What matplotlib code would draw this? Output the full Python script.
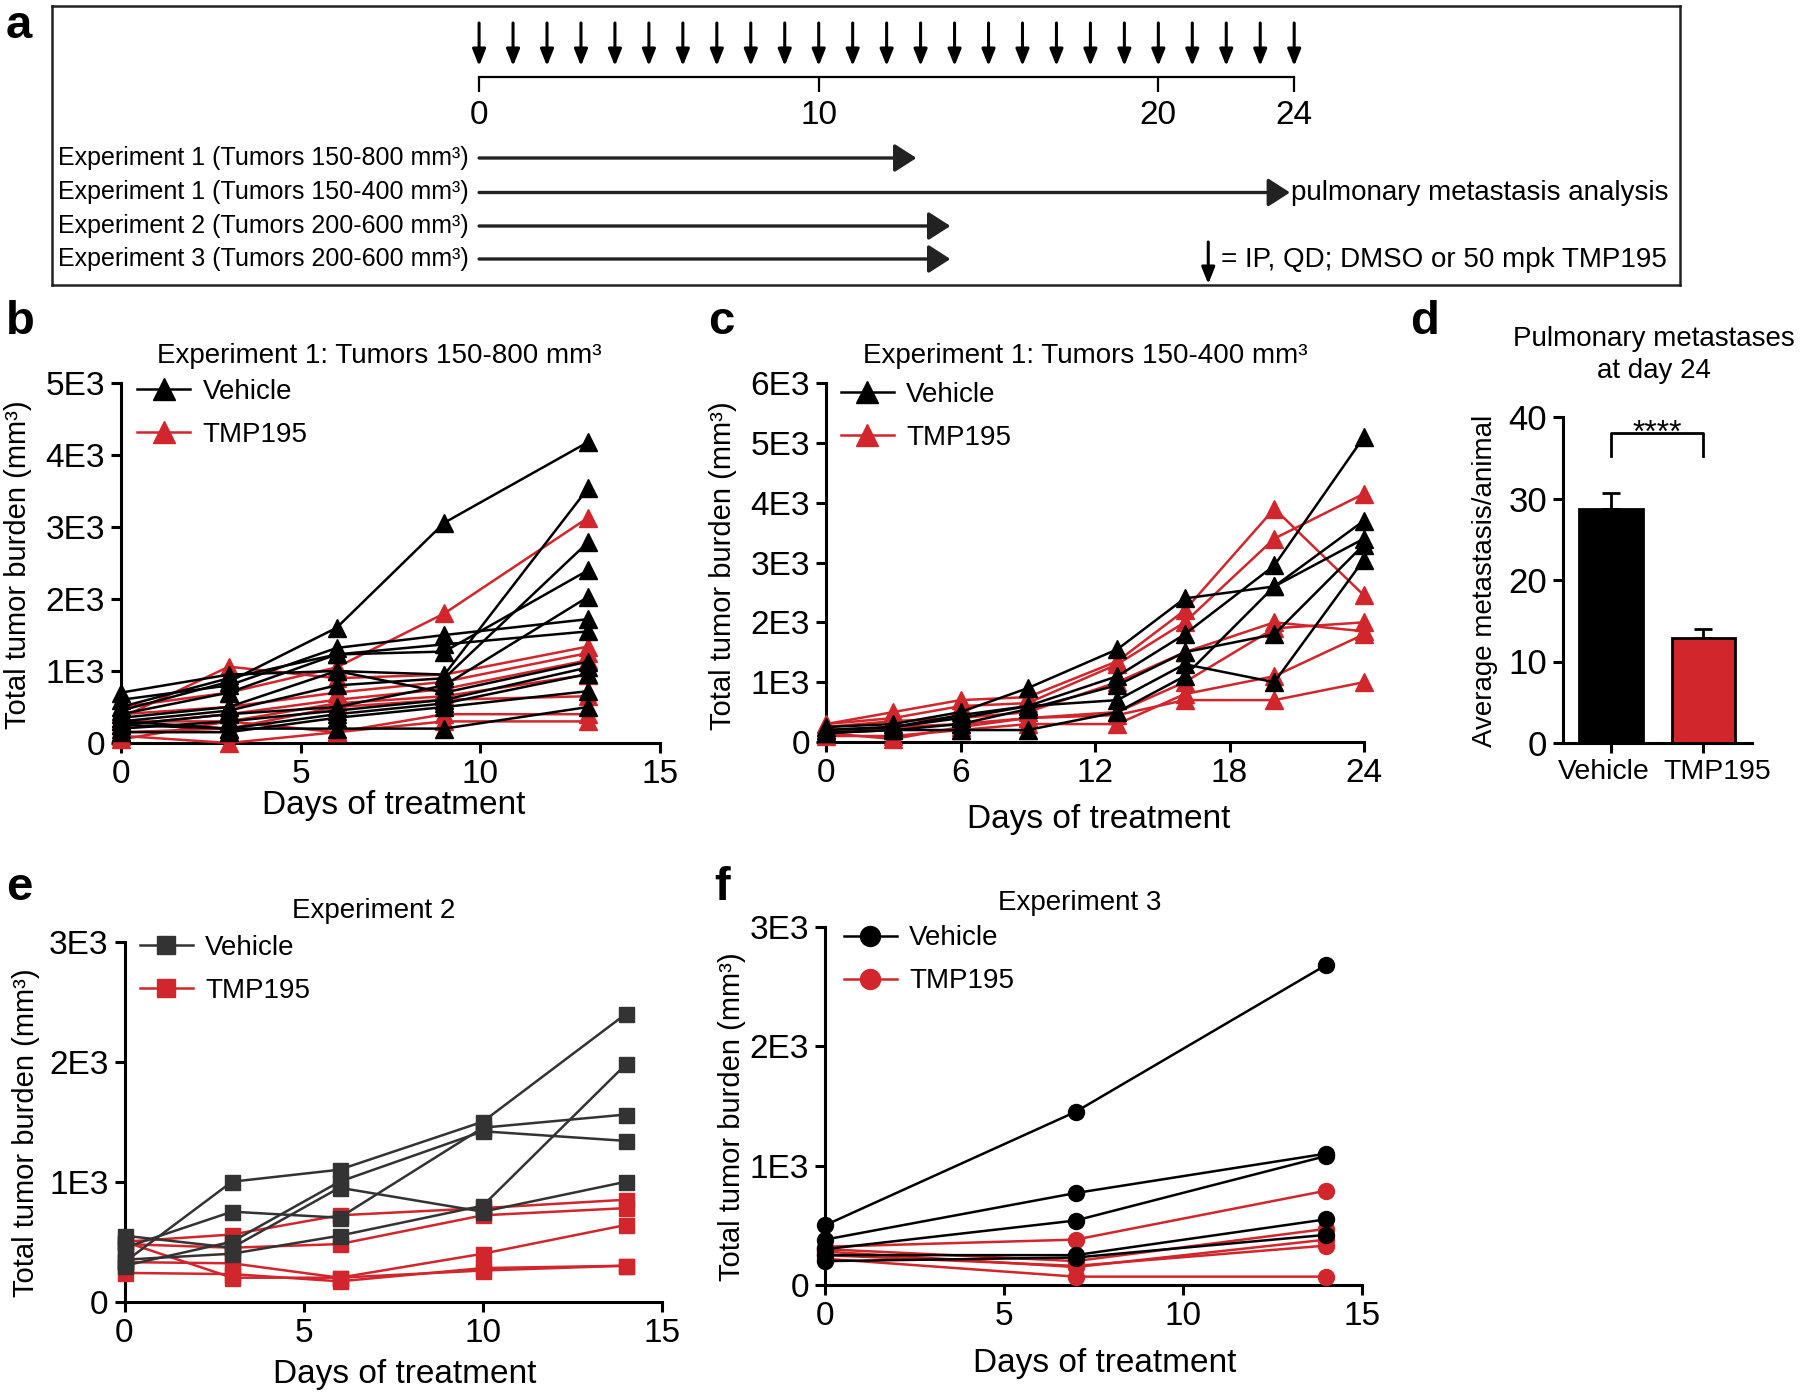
import matplotlib.pyplot as plt
from matplotlib.lines import Line2D
from matplotlib.ticker import FuncFormatter
from matplotlib.transforms import ScaledTranslation

plt.rcParams['font.family'] = ['Liberation Sans', 'DejaVu Sans']

W, H = 1800, 1396
RED = '#d0262c'
DARK = '#333333'

# ---- panel a: dosing schedule
dose_days = list(range(25))
timeline_ticks = [0, 10, 20, 24]
exp_labels = ['Experiment 1 (Tumors 150-800 mm³)',
              'Experiment 1 (Tumors 150-400 mm³)',
              'Experiment 2 (Tumors 200-600 mm³)',
              'Experiment 3 (Tumors 200-600 mm³)']
exp_end_days = [13, 24, 14, 14]

# ---- panel b: Experiment 1, tumors 150-800 mm3
b_days = [0, 3, 6, 9, 13]
b_vehicle = [
    [450, 850, 1600, 3060, 4180],
    [600, 800, 1320, 1500, 1720],
    [400, 700, 1230, 1370, 1550],
    [500, 900, 1230, 1270, 2400],
    [350, 500, 1000, 950, 3540],
    [300, 450, 800, 900, 2790],
    [250, 400, 500, 800, 2030],
    [700, 950, 1000, 700, 1130],
    [200, 300, 450, 600, 1050],
    [300, 200, 400, 550, 960],
    [150, 150, 350, 500, 720],
    [250, 200, 200, 200, 500],
]
b_tmp195 = [
    [500, 700, 1050, 1800, 3130],
    [350, 1060, 900, 950, 1340],
    [400, 500, 700, 850, 1250],
    [250, 400, 600, 750, 1150],
    [300, 300, 550, 650, 950],
    [150, 200, 500, 600, 650],
    [100, 0, 150, 400, 400],
    [50, 300, 150, 300, 300],
]

# ---- panel c: Experiment 1, tumors 150-400 mm3
c_days = [0, 3, 6, 9, 13, 16, 20, 24]
c_vehicle = [
    [250, 300, 500, 900, 1550, 2400, 2600, 3400],
    [200, 250, 450, 600, 1100, 1800, 2950, 5100],
    [150, 200, 300, 550, 950, 1500, 1800, 3300],
    [200, 250, 400, 600, 700, 1300, 1000, 3050],
    [150, 200, 200, 200, 500, 1100, 2600, 3700],
]
c_tmp195 = [
    [300, 500, 700, 750, 1350, 2200, 3900, 2450],
    [300, 400, 600, 650, 1300, 2000, 3400, 4150],
    [250, 350, 400, 500, 1000, 1500, 2000, 1850],
    [150, 250, 300, 400, 500, 1000, 1900, 2000],
    [100, 100, 200, 300, 300, 800, 1100, 1800],
    [150, 50, 250, 400, 450, 700, 700, 1000],
]

# ---- panel d: pulmonary metastases at day 24
d_groups = ['Vehicle', 'TMP195']
d_means = [28.7, 12.9]
d_sem = [2.0, 1.1]

# ---- panel e: Experiment 2
e_days = [0, 3, 6, 10, 14]
e_vehicle = [
    [330, 1000, 1100, 1500, 2400],
    [300, 500, 1000, 1420, 1340],
    [450, 750, 700, 1450, 1560],
    [550, 450, 950, 750, 1000],
    [350, 400, 550, 800, 1980],
]
e_tmp195 = [
    [500, 560, 720, 780, 850],
    [480, 450, 480, 720, 780],
    [330, 320, 200, 400, 640],
    [240, 230, 170, 280, 300],
    [500, 200, 200, 260, 300],
]

# ---- panel f: Experiment 3
f_days = [0, 7, 14]
f_vehicle = [
    [500, 1450, 2680],
    [380, 770, 1100],
    [300, 540, 1080],
    [250, 250, 550],
    [200, 230, 420],
]
f_tmp195 = [
    [320, 380, 790],
    [300, 200, 470],
    [280, 150, 380],
    [250, 160, 330],
    [220, 70, 70],
]


fig = plt.figure(figsize=(18, 13.96), dpi=100)


def px_axes(x0, y0, x1, y1):
    return fig.add_axes([x0 / W, 1 - y1 / H, (x1 - x0) / W, (y1 - y0) / H])


def ftext(x, y, s, **kw):
    fig.text(x / W, 1 - y / H, s, **kw)


def e3(v, pos):
    return '0' if v == 0 else '%dE3' % round(v / 1000)


def style(ax, labelsize=24):
    for s in ['top', 'right']:
        ax.spines[s].set_visible(False)
    for s in ['left', 'bottom']:
        ax.spines[s].set_linewidth(2.2)
    ax.tick_params(width=2.2, length=7.5, labelsize=labelsize, direction='out', pad=4)


def growth(ax, days, veh, tmp, marker, ms, vcolor, ymax, xmax, xticks,
           leg_anchor, xlab_pos, ylab_pos):
    for row in tmp:
        ax.plot(days, row, color=RED, marker=marker, ms=ms, lw=1.8, clip_on=False, zorder=3)
    for row in veh:
        ax.plot(days, row, color=vcolor, marker=marker, ms=ms, lw=1.8, clip_on=False, zorder=4)
    ax.set_xlim(0, xmax)
    ax.set_ylim(0, ymax)
    ax.set_xticks(xticks)
    ax.set_yticks(range(0, ymax + 1, 1000))
    ax.yaxis.set_major_formatter(FuncFormatter(e3))
    style(ax)
    ax.set_xlabel('Days of treatment', fontsize=24)
    ax.set_ylabel('Total tumor burden (mm³)', fontsize=21)
    ax.xaxis.set_label_coords(*xlab_pos)
    ax.yaxis.set_label_coords(*ylab_pos)
    handles = [Line2D([], [], color=vcolor, marker=marker, ms=ms, lw=1.8),
               Line2D([], [], color=RED, marker=marker, ms=ms, lw=1.8)]
    ax.legend(handles, ['Vehicle', 'TMP195'], loc='upper left', bbox_to_anchor=leg_anchor,
              frameon=False, fontsize=20, handlelength=1.9, handletextpad=0.45,
              labelspacing=0.62, borderpad=0, borderaxespad=0, numpoints=1,
              markerscale=1.25)


# ================= panel a =================
ax_a = px_axes(52, 6, 1680, 285)
ax_a.set_xlim(-12.575, 35.36)
ax_a.set_ylim(285, 6)
ax_a.set_xticks([])
ax_a.set_yticks([])
for s in ax_a.spines.values():
    s.set_linewidth(1.8)
    s.set_color('#222222')

for d in dose_days:
    ax_a.annotate('', xy=(d, 66), xytext=(d, 23),
                  arrowprops=dict(arrowstyle='-|>,head_length=0.4,head_width=0.16',
                                  lw=2.2, color='k', mutation_scale=25,
                                  shrinkA=0, shrinkB=0))
ax_a.plot([timeline_ticks[0], timeline_ticks[-1]], [77, 77], color='k', lw=1.6)
ax_a.vlines(timeline_ticks, 77, 92, color='k', lw=1.6)
for t in timeline_ticks:
    ax_a.text(t, 115, str(t), ha='center', va='center', fontsize=24)

row_y = [158, 192.5, 226, 259]
for lab, end, y in zip(exp_labels, exp_end_days, row_y):
    ax_a.text(-0.3, y, lab, ha='right', va='center', fontsize=18)
    ax_a.annotate('', xy=(end, y), xytext=(0, y),
                  arrowprops=dict(arrowstyle='-|>,head_length=0.42,head_width=0.27',
                                  lw=2.4, color='#222222', mutation_scale=32,
                                  shrinkA=0, shrinkB=3))
ax_a.text(23.9, row_y[1], 'pulmonary metastasis analysis', ha='left', va='center', fontsize=20)
ax_a.annotate('', xy=(21.47, 284), xytext=(21.47, 242),
              arrowprops=dict(arrowstyle='-|>,head_length=0.4,head_width=0.16',
                              lw=2.2, color='k', mutation_scale=25, shrinkA=0, shrinkB=0))
ax_a.text(21.85, 260, '= IP, QD; DMSO or 50 mpk TMP195', ha='left', va='center', fontsize=20)

# ================= panel b =================
ax_b = px_axes(121, 383, 660, 743)
growth(ax_b, b_days, b_vehicle, b_tmp195, '^', 13, 'k', 5000, 15, [0, 5, 10, 15],
       (0.03, 1.012), (0.505, -0.13), (-0.165, 0.494))
ftext(379, 356, 'Experiment 1: Tumors 150-800 mm³', ha='center', va='center', fontsize=20)

# ================= panel c =================
ax_c = px_axes(826, 383, 1364, 742)
growth(ax_c, c_days, c_vehicle, c_tmp195, '^', 13, 'k', 6000, 24, [0, 6, 12, 18, 24],
       (0.028, 1.003), (0.507, -0.172), (-0.165, 0.49))
ftext(1085, 356, 'Experiment 1: Tumors 150-400 mm³', ha='center', va='center', fontsize=20)

# ================= panel d =================
ax_d = px_axes(1563, 417, 1752, 743)
xpos = list(range(len(d_groups)))
ax_d.bar(xpos, d_means, width=0.685, color=['k', RED], edgecolor='k', lw=2, zorder=3)
ax_d.errorbar(xpos, d_means, yerr=[[0] * len(d_sem), d_sem], fmt='none', ecolor='k',
              elinewidth=2, capsize=6.5, capthick=2, zorder=2)
ax_d.plot([xpos[0], xpos[0], xpos[1], xpos[1]], [35.2, 38, 38, 35.2], color='k', lw=2)
ax_d.text(0.5, 37.0, '****', ha='center', va='baseline', fontsize=23)
ax_d.set_xlim(-0.52, 1.53)
ax_d.set_ylim(0, 40)
ax_d.set_yticks([0, 10, 20, 30, 40])
ax_d.set_xticks(xpos)
ax_d.set_xticklabels(d_groups)
style(ax_d, labelsize=25)
ax_d.tick_params(axis='x', labelsize=20.5)
for lab, dx in zip(ax_d.get_xticklabels(), [-7, 14]):
    lab.set_transform(lab.get_transform() + ScaledTranslation(dx / 100, 0, fig.dpi_scale_trans))
ax_d.set_ylabel('Average metastasis/animal', fontsize=20)
ax_d.yaxis.set_label_coords(-0.344, 0.496)
ftext(1654, 355, 'Pulmonary metastases\nat day 24', ha='center', va='center',
      fontsize=20, linespacing=1.3)

# ================= panel e =================
ax_e = px_axes(124.5, 941.7, 662, 1301.7)
growth(ax_e, e_days, e_vehicle, e_tmp195, 's', 10.8, DARK, 3000, 15, [0, 5, 10, 15],
       (0.029, 1.02), (0.522, -0.16), (-0.157, 0.47))
ftext(374, 911, 'Experiment 2', ha='center', va='center', fontsize=20)

# ================= panel f =================
ax_f = px_axes(825, 926.7, 1362, 1285)
growth(ax_f, f_days, f_vehicle, f_tmp195, 'o', 11.5, 'k', 3000, 15, [0, 5, 10, 15],
       (0.035, 1.004), (0.521, -0.175), (-0.147, 0.47))
ftext(1080, 903, 'Experiment 3', ha='center', va='center', fontsize=20)

# ================= panel letters =================
for lab, x, y in [('a', 6, 38), ('b', 6, 334), ('c', 708, 334), ('d', 1410, 334),
                  ('e', 6, 900), ('f', 714, 900)]:
    ftext(x, y, lab, ha='left', va='baseline', fontsize=34, fontweight='bold')

fig.savefig('out.png', dpi=100)
